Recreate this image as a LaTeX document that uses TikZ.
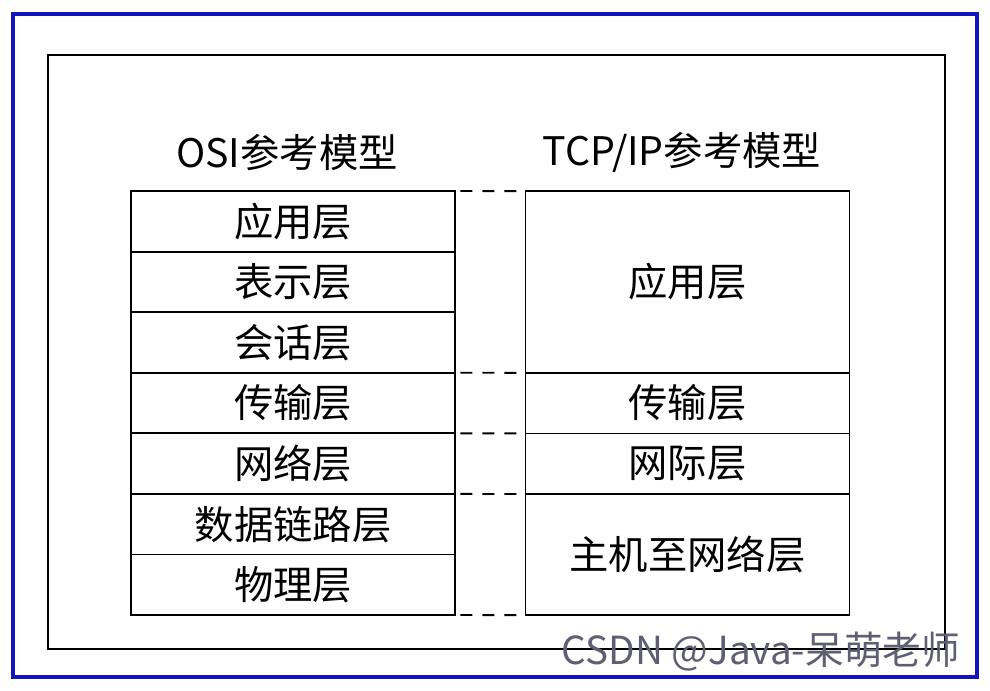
\documentclass[tikz,border=0pt]{standalone}
\usepackage{fontspec}
\setmainfont{Noto Sans CJK SC}
\usetikzlibrary{positioning}
\definecolor{frameblue}{RGB}{20,20,190}
\definecolor{markgray}{RGB}{95,95,115}
\tikzset{layer/.style = {draw, line width = 1.4pt, outer sep = 0, inner sep = 0,
                         minimum width = 243pt, minimum height = 45.43pt,
                         font = \fontsize{29.5}{31}\selectfont}}
\tikzset{title/.style = {font = \fontsize{29.5}{31}\selectfont}}
\tikzset{dashlink/.style = {line width = 1.4pt, dash pattern = on 9pt off 7.5pt, dash phase = -4pt}}

\begin{document}
\begin{tikzpicture}[x = 0.75pt, y = -0.75pt]
      \useasboundingbox [fill = white] (0, 0) rectangle (990, 690);
      \draw [frameblue, line width = 2.6pt] (13, 14) rectangle (977, 677);
      \draw [line width = 1.1pt] (48, 55) rectangle (945, 649);

      \node [title] (osititle) at (287, 152) {OSI参考模型};
      \node [title] (tcptitle) at (682, 152) {TCP/IP参考模型};

      % OSI
      \node [layer] (app) at (293, 221.3) {应用层};
      \node [layer, below = 0pt of app] (pres) {表示层};
      \node [layer, below = 0pt of pres] (sess) {会话层};
      \node [layer, below = 0pt of sess] (trans) {传输层};
      \node [layer, below = 0pt of trans] (net) {网络层};
      \node [layer, below = 0pt of net] (link) {数据链路层};
      \node [layer, below = 0pt of link] (phys) {物理层};

      % TCP/IP
      \node [layer, minimum height = 136.3pt] (tapp) at (687.5, 282) {应用层};
      \node [layer, below = 0pt of tapp] (ttrans) {传输层};
      \node [layer, below = 0pt of ttrans] (tnet) {网际层};
      \node [layer, minimum height = 90.86pt, below = 0pt of tnet] (thost) {主机至网络层};

      \draw [dashlink] (app.north east) -- (tapp.north west);
      \draw [dashlink] (trans.north east) -- (ttrans.north west);
      \draw [dashlink] (net.north east) -- (tnet.north west);
      \draw [dashlink] (link.north east) -- (thost.north west);
      \draw [dashlink] (phys.south east) -- (thost.south west);

      \node [markgray, font = \fontsize{29}{30}\selectfont] (mark) at (761, 652) {CSDN @Java-呆萌老师};
    \end{tikzpicture}
\end{document}
